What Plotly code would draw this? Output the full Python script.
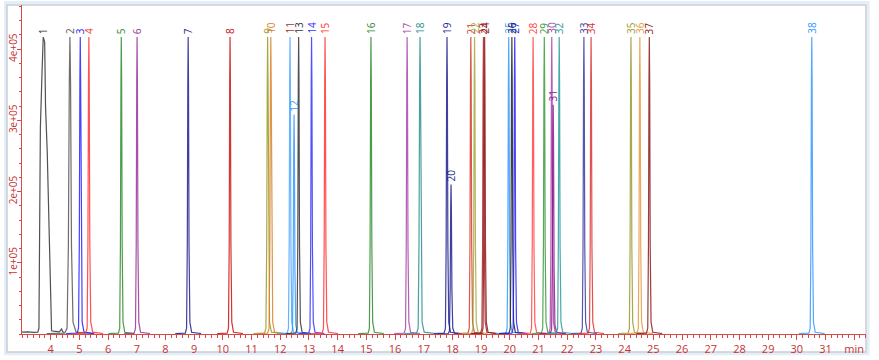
import plotly.graph_objects as go

# ---------------- data ----------------
PEAK_ID = [str(i) for i in range(1, 39)]
RT = [3.74, 4.67, 5.03, 5.33, 6.46, 7.01, 8.79, 10.25, 11.56, 11.67,
      12.34, 12.48, 12.64, 13.09, 13.56, 15.16, 16.42, 16.87, 17.81, 17.95,
      18.64, 18.77, 19.08, 19.12, 19.96, 20.07, 20.17, 20.81, 21.20, 21.46,
      21.51, 21.72, 22.58, 22.83, 24.22, 24.53, 24.86, 30.52]
HEIGHT = [4.17e5, 4.17e5, 4.17e5, 4.17e5, 4.17e5, 4.17e5, 4.17e5, 4.17e5, 4.17e5, 4.17e5,
          4.17e5, 3.08e5, 4.17e5, 4.17e5, 4.17e5, 4.17e5, 4.17e5, 4.17e5, 4.17e5, 2.10e5,
          4.17e5, 4.17e5, 4.17e5, 4.17e5, 4.17e5, 4.17e5, 4.17e5, 4.17e5, 4.17e5, 4.17e5,
          3.22e5, 4.17e5, 4.17e5, 4.17e5, 4.17e5, 4.17e5, 4.17e5, 4.17e5]
WIDTH = [1.0, 1.8, 1.1, 1.1, 1.0, 1.0, 1.0, 1.0, 1.1, 1.1,
         1.0, 1.0, 1.0, 1.0, 1.0, 1.0, 1.0, 1.2, 1.0, 1.0,
         1.0, 1.0, 1.0, 1.0, 1.0, 1.0, 1.0, 1.0, 1.0, 1.0,
         1.0, 1.0, 1.0, 1.0, 1.0, 1.0, 1.0, 1.0]
LABEL_COLOR = ["#333333", "#555555", "#2222ff", "#ff3333", "#2e8b2e", "#993399", "#1f1f8f", "#cc1111", "#9a9a22", "#d9822b",
               "#a83232", "#3399ff", "#333333", "#3333ff", "#ff3333", "#2e8b2e", "#aa44aa", "#2a9090", "#1f1f8f", "#1f1f8f",
               "#d43a2a", "#a8a840", "#b22222", "#8b1a1a", "#3399ff", "#222222", "#2222ff", "#ff4444", "#3a9a3a", "#aa44aa",
               "#8b1a8b", "#2a9a9a", "#3a3aa0", "#dd3333", "#9a9a30", "#e69a40", "#8b1a1a", "#3399ff"]
LINE_COLOR = list(LABEL_COLOR)
LINE_COLOR[10] = "#4da6ff"

# generic narrow peak profile (offset in min, fraction of height)
PROFILE_DT = [-0.45, -0.10, -0.055, -0.03, -0.012, 0.0, 0.012, 0.03, 0.06, 0.12, 0.45]
PROFILE_FRAC = [0.0015, 0.003, 0.02, 0.3, 0.85, 1.0, 0.85, 0.3, 0.04, 0.006, 0.0015]

# broad first peak and early baseline (black trace)
P1_X = [3.0, 3.2, 3.4, 3.55, 3.59, 3.605, 3.64, 3.70, 3.74, 3.79, 3.82, 3.88, 3.95, 4.0, 4.03,
        4.1, 4.2, 4.3, 4.38, 4.42, 4.47]
P1_Y = [2500, 3000, 2200, 2600, 8000, 1.46e5, 2.9e5, 3.7e5, 4.17e5, 4.1e5, 3.2e5, 2.55e5, 1.3e5, 1.5e4, 4500,
        4000, 3200, 3000, 7000, 3000, 2000]

AXIS_RED = "#d94848"
TEXT_RED = "#c83232"
FONT = "Open Sans"

fig = go.Figure()

# peak 1 (broad)
fig.add_trace(go.Scatter(x=P1_X, y=P1_Y, mode="lines",
                         line=dict(color=LINE_COLOR[0], width=1.2), opacity=0.85,
                         hoverinfo="skip", showlegend=False))

for i in range(1, len(RT)):
    xs = [RT[i] + d * WIDTH[i] for d in PROFILE_DT]
    ys = [HEIGHT[i] * f for f in PROFILE_FRAC]
    fig.add_trace(go.Scatter(x=xs, y=ys, mode="lines",
                             line=dict(color=LINE_COLOR[i], width=1.2), opacity=0.85,
                             hoverinfo="skip", showlegend=False))

for i in range(len(RT)):
    fig.add_annotation(x=RT[i], y=HEIGHT[i], text=PEAK_ID[i], showarrow=False,
                       textangle=-90, xanchor="center", yanchor="bottom", yshift=1,
                       font=dict(family=FONT, size=10, color=LABEL_COLOR[i]))

x_tickvals = list(range(4, 33))
x_ticktext = [str(v) for v in range(4, 32)] + ["min"]
y_tickvals = [1e5, 2e5, 3e5, 4e5]
y_ticktext = ["1e+05", "2e+05", "3e+05", "4e+05"]

fig.update_xaxes(range=[3.0, 32.41], showgrid=False, zeroline=False, automargin=False,
                 showline=True, linecolor=AXIS_RED, linewidth=1,
                 tickmode="array", tickvals=x_tickvals, ticktext=x_ticktext,
                 ticks="outside", ticklen=5, tickcolor=AXIS_RED, tickwidth=1,
                 tickfont=dict(family=FONT, size=11, color=TEXT_RED),
                 minor=dict(ticks="outside", ticklen=3, tickcolor=AXIS_RED, dtick=0.2, tick0=0, showgrid=False))
fig.update_yaxes(range=[0, 4.62e5], showgrid=False, zeroline=False, automargin=False,
                 showline=True, linecolor=AXIS_RED, linewidth=1,
                 tickmode="array", tickvals=y_tickvals, ticktext=y_ticktext,
                 tickangle=-90, ticklabelstandoff=-4,
                 ticks="outside", ticklen=4, tickcolor=AXIS_RED, tickwidth=1,
                 tickfont=dict(family=FONT, size=10, color=TEXT_RED),
                 minor=dict(ticks="outside", ticklen=2, tickcolor=AXIS_RED, dtick=2e4, tick0=0, showgrid=False))

# outer frame
fig.add_shape(type="rect", xref="paper", yref="paper",
              x0=-0.0195, x1=1.0025, y0=-0.060, y1=1.0075,
              line=dict(color="#e3eef9", width=3), layer="below")
fig.add_shape(type="rect", xref="paper", yref="paper",
              x0=-0.0178, x1=1.0, y0=-0.0547, y1=1.0,
              line=dict(color="#c9ced4", width=1.5), layer="below")

fig.update_layout(width=879, height=360,
                  margin=dict(l=22, r=13, t=5, b=26, autoexpand=False),
                  paper_bgcolor="white", plot_bgcolor="rgba(0,0,0,0)",
                  font=dict(family=FONT))

fig.write_html("out.html", config={"displayModeBar": False},
               post_script="document.body.style.margin='0';document.body.style.overflow='hidden';")
